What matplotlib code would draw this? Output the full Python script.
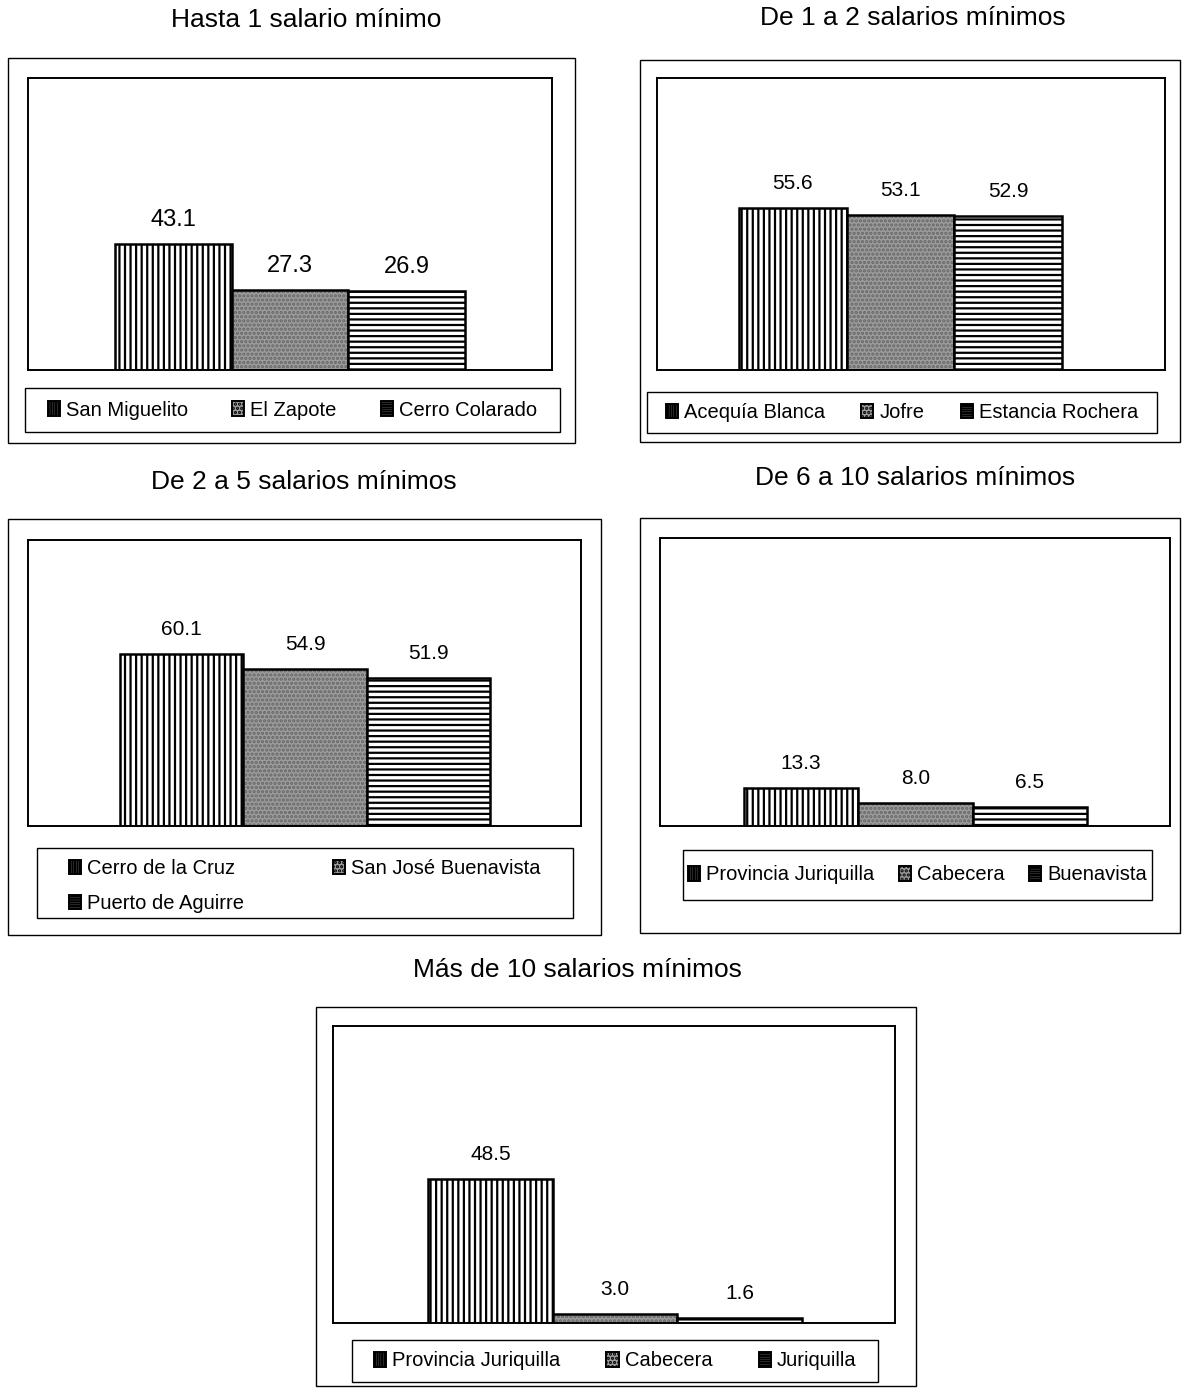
import matplotlib
matplotlib.use("Agg")
import matplotlib.pyplot as plt
from matplotlib.patches import Rectangle, Patch

plt.rcParams['font.family'] = ['Liberation Sans', 'DejaVu Sans']
plt.rcParams['hatch.linewidth'] = 1.6

W, H = 1182, 1388

titles = ["Hasta 1 salario mínimo", "De 1 a 2 salarios mínimos",
          "De 2 a 5 salarios mínimos", "De 6 a 10 salarios mínimos",
          "Más de 10 salarios mínimos"]
labels1 = ["San Miguelito", "El Zapote", "Cerro Colarado"]
values1 = [43.1, 27.3, 26.9]
labels2 = ["Acequía Blanca", "Jofre", "Estancia Rochera"]
values2 = [55.6, 53.1, 52.9]
labels3 = ["Cerro de la Cruz", "San José Buenavista", "Puerto de Aguirre"]
values3 = [60.1, 54.9, 51.9]
labels4 = ["Provincia Juriquilla", "Cabecera", "Buenavista"]
values4 = [13.3, 8.0, 6.5]
labels5 = ["Provincia Juriquilla", "Cabecera", "Juriquilla"]
values5 = [48.5, 3.0, 1.6]

fig = plt.figure(figsize=(W / 100, H / 100), dpi=100)


def fr(x0, y0, x1, y1):
    return [x0 / W, 1 - y1 / H, (x1 - x0) / W, (y1 - y0) / H]


def box(x0, y0, x1, y1, lw=1.0):
    r = Rectangle((x0 / W, 1 - y1 / H), (x1 - x0) / W, (y1 - y0) / H,
                  transform=fig.transFigure, fill=False, edgecolor='black',
                  linewidth=lw, zorder=0)
    fig.add_artist(r)


styles = [
    dict(facecolor='white', hatch='|||', edgecolor='black', lhatch='|||||||'),
    dict(facecolor='#9c9c9c', hatch='....', edgecolor='#666666', lhatch='....'),
    dict(facecolor='white', hatch='---', edgecolor='black', lhatch='-------'),
]


def chart(title, tpos, outer, plot, bars, labels, values, legbox, vfs,
          ncol=3, order=None, colsp=2.2, tfs=19, legdy=0):
    box(*outer)
    fig.text(tpos[0] / W, 1 - tpos[1] / H, title, ha='center', va='center',
             fontsize=tfs)
    px0, py0, px1, py1 = plot
    ax = fig.add_axes(fr(*plot))
    bx0, bx1 = bars
    u = (bx1 - bx0) / 3
    ax.set_xlim(-0.5 - (bx0 - px0) / u, 2.5 + (px1 - bx1) / u)
    ax.set_ylim(0, 100)
    ax.set_xticks([])
    ax.set_yticks([])
    for s in ax.spines.values():
        s.set_linewidth(1.4)
    handles = []
    for i, (lab, v) in enumerate(zip(labels, values)):
        st = styles[i]
        ax.bar(i, v, width=1.0, color=st['facecolor'], hatch=st['hatch'],
               edgecolor=st['edgecolor'], linewidth=0)
        ax.bar(i, v, width=1.0, fill=False, edgecolor='black', linewidth=1.8)
        ax.annotate(f"{v:.1f}", (i, v), xytext=(0, 17.5),
                    textcoords='offset points', ha='center', va='center',
                    fontsize=vfs)
        handles.append(Patch(facecolor=st['facecolor'], hatch=st['lhatch'],
                             edgecolor='black', linewidth=1.4, label=lab))
    if order is not None:
        handles = [handles[k] for k in order]
    box(*legbox)
    lx0, ly0, lx1, ly1 = legbox
    fig.legend(handles=handles, loc='center',
               bbox_to_anchor=((lx0 + lx1) / 2 / W,
                               1 - ((ly0 + ly1) / 2 + legdy) / H),
               ncol=ncol, fontsize=14.5, frameon=False,
               handlelength=0.6, handleheight=0.7, handletextpad=0.3,
               borderaxespad=0, columnspacing=colsp, labelspacing=0.8,
               borderpad=0)
    return ax


chart(titles[0], (306, 20), (8, 58, 575, 443), (28, 78, 552, 370),
      (115, 465), labels1, values1, (25, 388, 560, 432), 17, colsp=2.2)
chart(titles[1], (913, 18), (640, 60, 1180, 442), (657, 78, 1165, 370),
      (739, 1062), labels2, values2, (647, 392, 1157, 433), 15, colsp=1.8)
chart(titles[2], (304, 482), (8, 519, 601, 935), (28, 540, 581, 826),
      (120, 490), labels3, values3, (37, 848, 573, 918), 15, ncol=2,
      order=[0, 2, 1], colsp=4.4, legdy=3)
chart(titles[3], (915, 478), (640, 518, 1180, 933), (660, 538, 1170, 826),
      (744, 1087), labels4, values4, (683, 850, 1152, 900), 15, colsp=1.2)
chart(titles[4], (577, 970), (316, 1007, 916, 1386), (333, 1026, 895, 1323),
      (428, 802), labels5, values5, (352, 1340, 878, 1382), 15, colsp=2.3)

fig.savefig("out.png", dpi=100)
